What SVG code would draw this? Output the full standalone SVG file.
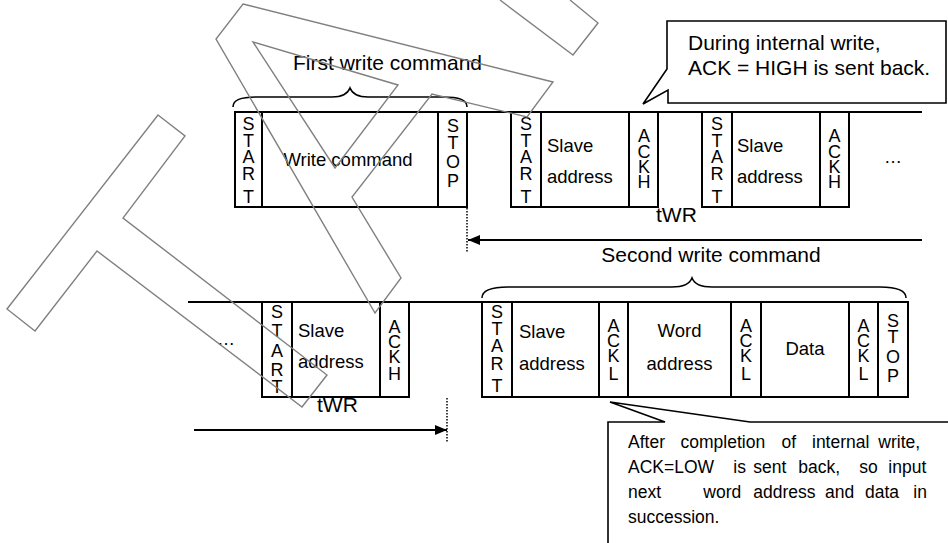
<svg xmlns="http://www.w3.org/2000/svg" width="948" height="543" viewBox="0 0 948 543">
<style>
text{font-family:"Liberation Sans",Arial,sans-serif;fill:#000}
.big{font-size:21px}
.mid{font-size:18.5px}
.v{font-size:18px;text-anchor:middle}
.c{text-anchor:middle}
.small{font-size:17.5px}
.box{fill:none;stroke:#000;stroke-width:2}
.line{fill:none;stroke:#000;stroke-width:2}
.brace{fill:none;stroke:#000;stroke-width:1.6}
.call{fill:#fff;stroke:#000;stroke-width:1.6}
.dot{fill:none;stroke:#000;stroke-width:1.5;stroke-dasharray:1.5 1.5}
.wm{fill:none;stroke:#808080;stroke-width:1.4}
</style>
<defs>
<marker id="ah" viewBox="0 0 12 10" refX="12" refY="5" markerWidth="12" markerHeight="10" markerUnits="userSpaceOnUse" orient="auto">
<path d="M0,0 L12,5 L0,10 Z" fill="#000"/>
</marker>
</defs>
<rect width="948" height="543" fill="#fff"/>

<!-- top row -->
<g id="top-row">
<line class="line" x1="234" y1="112" x2="922" y2="112"/>
<path class="brace" d="M233,107 C233,100 240,97 258,97 L332,97 C343,97 348,93 350,88 C352,93 357,97 368,97 L442,97 C460,97 467,100 467,107"/>
<text class="big" x="293" y="70">First write command</text>
</g>
<g id="t-start1"><rect class="box" x="235" y="112" width="27" height="95"/>
<text class="v" x="248.5"><tspan x="248.5" y="130">S</tspan><tspan x="248.5" y="147">T</tspan><tspan x="248.5" y="163">A</tspan><tspan x="248.5" y="180">R</tspan><tspan x="248.5" y="203">T</tspan></text></g>
<g id="t-write"><rect class="box" x="262" y="112" width="176" height="95"/>
<text class="mid c" x="348" y="166">Write command</text></g>
<g id="t-stop"><rect class="box" x="438" y="112" width="29" height="95"/>
<text class="v"><tspan x="453" y="132">S</tspan><tspan x="453" y="149">T</tspan><tspan x="453" y="168">O</tspan><tspan x="453" y="187">P</tspan></text></g>
<g id="t-start2"><rect class="box" x="511" y="112" width="30" height="95"/>
<text class="v"><tspan x="526" y="130">S</tspan><tspan x="526" y="147">T</tspan><tspan x="526" y="163">A</tspan><tspan x="526" y="180">R</tspan><tspan x="526" y="203">T</tspan></text></g>
<g id="t-slave1"><rect class="box" x="541" y="112" width="88" height="95"/>
<text class="mid" x="547" y="152">Slave</text><text class="mid" x="547" y="183">address</text></g>
<g id="t-ackh1"><rect class="box" x="629" y="112" width="29" height="95"/>
<text class="v"><tspan x="644" y="142">A</tspan><tspan x="644" y="158">C</tspan><tspan x="644" y="173">K</tspan><tspan x="644" y="188">H</tspan></text></g>
<g id="t-start3"><rect class="box" x="702" y="112" width="30" height="95"/>
<text class="v"><tspan x="717" y="130">S</tspan><tspan x="717" y="147">T</tspan><tspan x="717" y="163">A</tspan><tspan x="717" y="180">R</tspan><tspan x="717" y="203">T</tspan></text></g>
<g id="t-slave2"><rect class="box" x="732" y="112" width="88" height="95"/>
<text class="mid" x="737" y="152">Slave</text><text class="mid" x="737" y="183">address</text></g>
<g id="t-ackh2"><rect class="box" x="820" y="112" width="29" height="95"/>
<text class="v"><tspan x="834.5" y="142">A</tspan><tspan x="834.5" y="158">C</tspan><tspan x="834.5" y="173">K</tspan><tspan x="834.5" y="188">H</tspan></text></g>
<g id="t-more"><text x="884" y="163" style="font-size:18px">…</text></g>
<g id="t-twr"><text class="big" x="656" y="222">tWR</text></g>

<g id="callout-high">
<path class="call" d="M667,21 H946 V103 H668 V90 L643,104 L667,69 Z"/>
<text class="big" x="688" y="50">During internal write,</text>
<text class="big" x="688" y="75">ACK = HIGH is sent back.</text>
</g>

<g id="second-label">
<text class="big c" x="711" y="262">Second write command</text>
</g>

<!-- bottom row -->
<g id="bottom-row">
<line class="line" x1="188" y1="302" x2="908" y2="302"/>
<path class="brace" d="M482,298 C482,291 490,287 508,287 L672,287 C684,287 690,283 692,278 C694,283 700,287 712,287 L880,287 C898,287 906,291 906,298"/>
</g>
<g id="b-more"><text x="217" y="345" style="font-size:18px">…</text></g>
<g id="b-start1"><rect class="box" x="262" y="302" width="30" height="95"/>
<text class="v"><tspan x="277" y="318">S</tspan><tspan x="277" y="337">T</tspan><tspan x="277" y="357">A</tspan><tspan x="277" y="376">R</tspan><tspan x="277" y="393">T</tspan></text></g>
<g id="b-slave1"><rect class="box" x="292" y="302" width="88" height="95"/>
<text class="mid" x="298" y="337">Slave</text><text class="mid" x="298" y="368">address</text></g>
<g id="b-ackh"><rect class="box" x="380" y="302" width="29" height="95"/>
<text class="v"><tspan x="394.5" y="333">A</tspan><tspan x="394.5" y="348">C</tspan><tspan x="394.5" y="363">K</tspan><tspan x="394.5" y="380">H</tspan></text></g>
<g id="b-twr"><text class="big" x="317" y="412">tWR</text></g>

<g id="b-start2"><rect class="box" x="482" y="302" width="30" height="95"/>
<text class="v"><tspan x="497" y="318">S</tspan><tspan x="497" y="335">T</tspan><tspan x="497" y="352">A</tspan><tspan x="497" y="370">R</tspan><tspan x="497" y="392">T</tspan></text></g>
<g id="b-slave2"><rect class="box" x="512" y="302" width="87" height="95"/>
<text class="mid" x="519" y="338">Slave</text><text class="mid" x="519" y="370">address</text></g>
<g id="b-ackl1"><rect class="box" x="599" y="302" width="29" height="95"/>
<text class="v"><tspan x="613.5" y="332">A</tspan><tspan x="613.5" y="347">C</tspan><tspan x="613.5" y="362">K</tspan><tspan x="613.5" y="380">L</tspan></text></g>
<g id="b-word"><rect class="box" x="628" y="302" width="103" height="95"/>
<text class="mid c" x="679.5" y="337">Word</text><text class="mid c" x="679.5" y="370">address</text></g>
<g id="b-ackl2"><rect class="box" x="731" y="302" width="30" height="95"/>
<text class="v"><tspan x="746" y="332">A</tspan><tspan x="746" y="347">C</tspan><tspan x="746" y="362">K</tspan><tspan x="746" y="380">L</tspan></text></g>
<g id="b-data"><rect class="box" x="761" y="302" width="88" height="95"/>
<text class="mid c" x="805" y="355">Data</text></g>
<g id="b-ackl3"><rect class="box" x="849" y="302" width="29" height="95"/>
<text class="v"><tspan x="863.5" y="332">A</tspan><tspan x="863.5" y="347">C</tspan><tspan x="863.5" y="362">K</tspan><tspan x="863.5" y="380">L</tspan></text></g>
<g id="b-stop"><rect class="box" x="878" y="302" width="30" height="95"/>
<text class="v"><tspan x="893" y="327">S</tspan><tspan x="893" y="343">T</tspan><tspan x="893" y="363">O</tspan><tspan x="893" y="382">P</tspan></text></g>

<g id="callout-low">
<path class="call" d="M608,545 V422 H665 L610,402 L750,422 H950"/>
<text class="small"><tspan x="628" y="448">After</tspan><tspan x="680.5" y="448">completion</tspan><tspan x="781.5" y="448">of</tspan><tspan x="812" y="448">internal</tspan><tspan x="878.3" y="448">write,</tspan></text>
<text class="small"><tspan x="628" y="473">ACK=LOW</tspan><tspan x="733.3" y="473">is</tspan><tspan x="753.3" y="473">sent</tspan><tspan x="798.3" y="473">back,</tspan><tspan x="859.3" y="473">so</tspan><tspan x="888.3" y="473">input</tspan></text>
<text class="small"><tspan x="628" y="498">next</tspan><tspan x="703.3" y="498">word</tspan><tspan x="753.3" y="498">address</tspan><tspan x="825" y="498">and</tspan><tspan x="865" y="498">data</tspan><tspan x="913.3" y="498">in</tspan></text>
<text class="small" x="628" y="523">succession.</text>
</g>

<!-- connectors -->
<g id="connectors">
<line class="dot" x1="467" y1="208" x2="467" y2="253"/>
<line class="line" x1="922" y1="240" x2="468" y2="240" marker-end="url(#ah)"/>
<line class="dot" x1="447" y1="398" x2="447" y2="443"/>
<line class="line" x1="194" y1="430" x2="447" y2="430" marker-end="url(#ah)"/>
</g>

<!-- watermark outlines -->
<g id="watermark">
<polygon class="wm" points="243,4 553,82 527,117 432,94 352,197 401,278 375,313 216,39"/>
<polygon class="wm" points="253,42 398,85 335,168"/>
<polyline class="wm" points="500,0 573,55 598,23 570,0"/>
<polygon class="wm" points="158,115 185,136 123,218 327,375 302,407 97,251 35,331 7,309"/>
</g>
</svg>
